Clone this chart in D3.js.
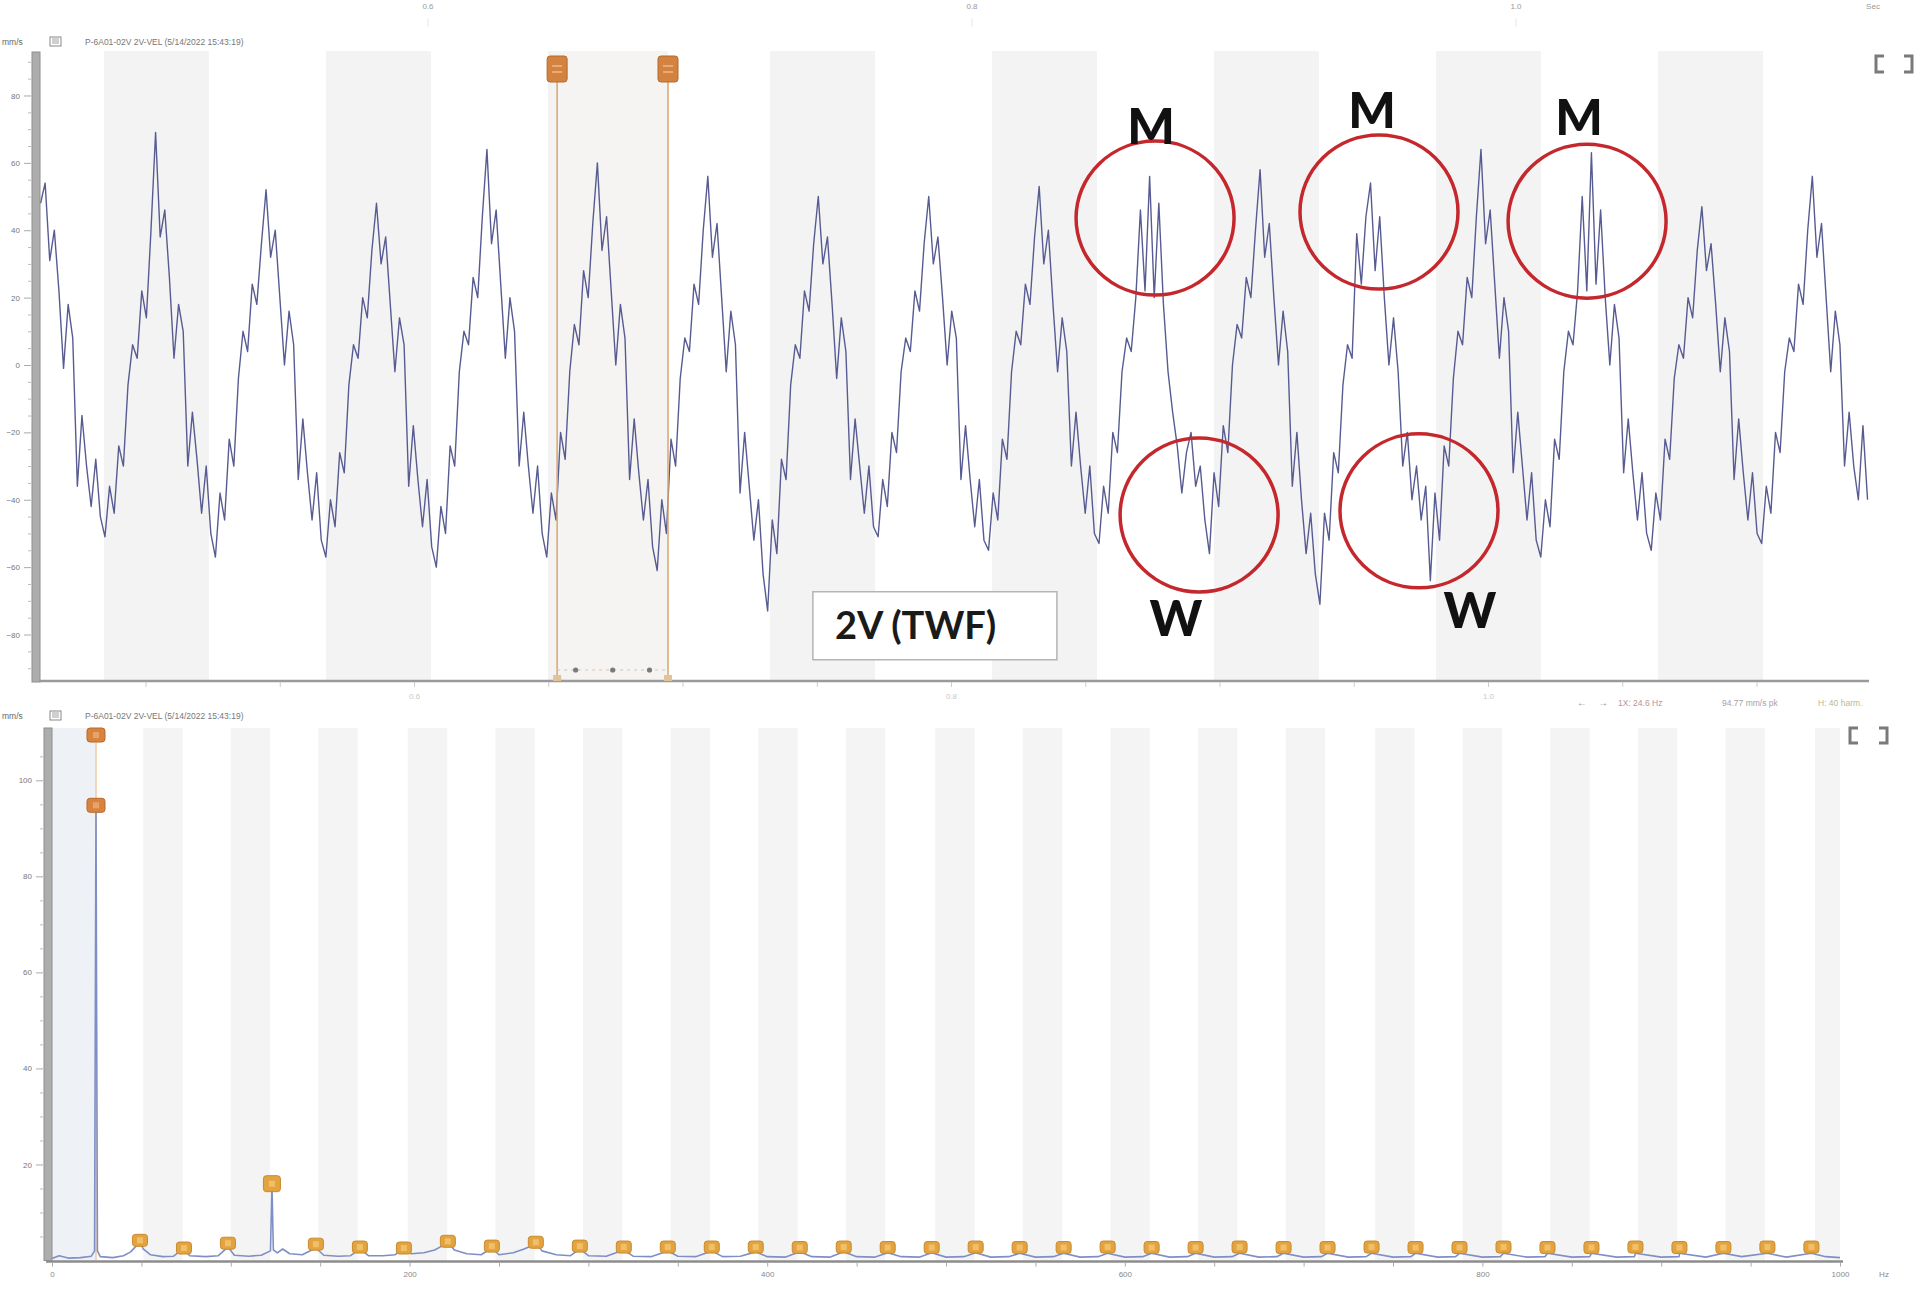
<!DOCTYPE html>
<html><head><meta charset="utf-8">
<script src="https://cdn.jsdelivr.net/npm/d3@7"></script>
<style>
html,body{margin:0;padding:0;background:#fff;}
svg{display:block;font-family:"Liberation Sans",Arial,sans-serif;}
</style></head><body>
<svg id="chart" width="1918" height="1310"></svg>
<script>
// ================= DATA =================
// cropped time labels of the strip above the top chart
const stripTicks = [0.6, 0.8, 1.0];
const stripUnit = "Sec";

// ---- Time waveform (TWF), mm/s, one value per sample ----
const twfStart = 0.4609;   // s
const twfStep  = 0.001714; // s
const twfValues = [
  48, 54, 31, 40, 22, -1, 18, 8, -36, -15, -30, -42, -28, -45,
  -51, -36, -44, -24, -30, -6, 6, 2, 22, 14, 40, 69, 38, 46, 26, 2, 18, 10, -30, -14, -28, -44, -30, -50,
  -57, -38, -46, -22, -30, -4, 10, 4, 24, 18, 36, 52, 32, 40, 20, 0, 16, 6, -34, -16, -32, -46, -32, -52,
  -57, -40, -48, -26, -32, -6, 6, 2, 20, 14, 34, 48, 30, 38, 18, -2, 14, 6, -36, -18, -34, -48, -34, -54,
  -60, -42, -50, -24, -30, -2, 10, 6, 26, 20, 44, 64, 36, 46, 24, 2, 20, 10, -30, -14, -30, -44, -30, -50,
  -57, -38, -46, -20, -28, -2, 12, 6, 28, 20, 42, 60, 34, 44, 22, 0, 18, 8, -34, -16, -32, -46, -34, -54,
  -61, -40, -50, -22, -30, -4, 8, 4, 24, 18, 40, 56, 32, 42, 20, -2, 16, 6, -38, -20, -36, -52, -40, -62,
  -73, -46, -56, -28, -34, -6, 6, 2, 22, 16, 36, 50, 30, 38, 18, -4, 14, 4, -34, -16, -30, -44, -30, -48,
  -51, -34, -42, -20, -26, -2, 8, 4, 22, 16, 36, 50, 30, 38, 20, 0, 16, 8, -34, -18, -34, -48, -34, -52,
  -55, -38, -46, -22, -28, -2, 10, 6, 24, 18, 38, 53, 30, 40, 18, -2, 14, 4, -30, -14, -30, -44, -30, -50,
  -53, -36, -44, -20, -26, -2, 8, 4, 20, 46, 22, 56, 20, 48, 18, -2, -14, -24, -38, -26, -20, -36, -30, -46,
  -56, -32, -42, -18, -26, 0, 12, 8, 26, 20, 40, 58, 32, 42, 20, 0, 16, 4, -36, -20, -40, -56, -44, -62,
  -71, -44, -52, -26, -32, -6, 6, 2, 39, 24, 44, 54, 28, 44, 20, 0, 14, -2, -30, -20, -40, -30, -46, -36,
  -64, -38, -52, -24, -30, -4, 10, 6, 26, 20, 44, 64, 36, 46, 24, 2, 20, 10, -32, -14, -30, -46, -32, -52,
  -57, -40, -48, -22, -28, -2, 10, 6, 22, 50, 22, 63, 24, 46, 20, 0, 18, 8, -32, -16, -32, -46, -32, -50,
  -55, -38, -46, -22, -28, -4, 6, 2, 20, 14, 34, 47, 28, 36, 18, -2, 14, 4, -34, -16, -32, -46, -32, -50,
  -53, -36, -44, -20, -26, -2, 8, 4, 24, 18, 40, 56, 32, 42, 20, -2, 16, 6, -30, -14, -30, -40, -18, -40
];
const twfYTicks = [80, 60, 40, 20, 0, -20, -40, -60, -80];
const twfXTicks = [0.5, 0.55, 0.6, 0.65, 0.7, 0.75, 0.8, 0.85, 0.9, 0.95, 1.0, 1.05, 1.1];
const twfXLabels = [0.6, 0.8, 1.0];
const twfBands = [[0.4845,0.5236],[0.5672,0.6063],[0.6499,0.6890],[0.7326,0.7717],
                  [0.8153,0.8544],[0.8979,0.9370],[0.9806,1.0197],[1.0633,1.1024]];
const twfCursors = [0.6533, 0.6946];
const twfCursorDots = [0.6602, 0.6740, 0.6877];
const twfHeader = "P-6A01-02V 2V-VEL (5/14/2022 15:43:19)";
// annotations: [time, value]
const mwCircles = [[0.8760,43.6],[0.9594,45.4],[1.0369,42.7],[0.8924,-44.5],[0.9743,-43.3]];
const mwLabels  = [["M",0.8745,65.6],["M",0.9568,70.3],["M",1.0339,68.2],["W",0.8838,-80.4],["W",0.9933,-78.0]];
const twfTitle = "2V (TWF)";
const twfTitlePos = [0.7940, -77.4];

// ---- Spectrum, mm/s vs Hz ----
const specFreq = [0,4,9,16,22,23.8,24.6,25.4,27,34,40,44,47,49.2,51,55,62,68,73.8,77,86,93,98.4,102,110,117,
  122.2,123,123.8,126,129,133,140,147.6,152,160,167,172.2,177,185,192,196.8,201,208,214,218,221.4,225,232,240,
  246,250,258,264,268,270.6,274,282,290,295.2,300,310,319.8,325,335,344.4,350,360,369,375,385,393.6,400,410,
  418.2,425,435,442.8,450,460,467.4,475,485,492,500,510,516.6,525,535,541.2,550,560,565.8,575,585,590.4,600,
  610,615,625,635,639.6,650,660,664.2,675,685,688.8,700,710,713.4,725,735,738,750,760,762.6,775,785,787.2,800,
  810,811.8,825,835,836.4,850,860,861,875,885,885.6,900,910,910.2,925,934.8,945,959.4,970,984,992,1000];
const specAmp = [0.4,1.0,0.5,0.6,0.9,2.0,94.8,2.0,0.8,0.6,1.0,1.8,3.0,4.0,2.4,1.2,0.8,0.9,2.6,1.0,0.8,1.0,2.8,1.1,0.9,1.1,
  2.0,16.0,2.2,1.6,2.4,1.4,1.2,2.6,1.1,0.9,1.0,2.4,1.0,1.0,1.2,2.6,1.4,1.6,2.2,3.0,4.0,2.2,1.4,1.2,
  2.6,1.2,1.6,2.4,3.0,3.8,2.0,1.2,1.0,2.4,1.0,0.9,2.2,0.9,0.8,2.0,0.9,0.8,2.0,0.8,0.9,1.8,0.8,0.7,
  1.8,0.8,0.7,1.8,0.8,0.7,1.6,0.8,0.7,1.6,0.7,0.8,1.6,0.7,0.8,1.5,0.7,0.8,1.5,0.7,0.8,1.5,0.7,
  0.8,1.5,0.7,0.8,1.5,0.7,0.8,1.5,0.7,0.8,1.5,0.7,0.8,1.5,0.7,0.8,1.5,0.7,0.8,1.5,0.7,0.8,1.5,0.7,
  0.8,1.5,0.7,0.8,1.5,0.7,0.8,1.5,0.7,0.8,1.5,0.7,0.8,1.5,0.7,1.5,0.8,1.5,0.7,1.5,0.8,0.6];
const harmFreq = [24.6,49.2,73.8,98.4,123.0,147.6,172.2,196.8,221.4,246.0,270.6,295.2,319.8,344.4,369.0,393.6,
  418.2,442.8,467.4,492.0,516.6,541.2,565.8,590.4,615.0,639.6,664.2,688.8,713.4,738.0,762.6,787.2,811.8,836.4,
  861.0,885.6,910.2,934.8,959.4,984.0];
const harmAmp = [94.8,4.2,2.6,3.6,16.0,3.4,2.8,2.6,4.0,3.0,3.8,3.0,2.8,2.8,2.8,2.8,2.7,2.8,2.7,2.7,
  2.8,2.7,2.7,2.8,2.7,2.7,2.8,2.7,2.7,2.8,2.7,2.7,2.8,2.7,2.7,2.8,2.7,2.7,2.8,2.8];
const specBands = [[51,73],[100,122],[149,171],[199,221],[248,270],[297,319],[346,368],[395,417],[444,466],
  [494,516],[543,565],[592,614],[641,663],[690,712],[740,762],[789,811],[838,860],[887,909],[936,958],[986,1000]];
const specLeadBand = [0, 24];
const specYTicks = [100, 80, 60, 40, 20];
const specXTicks = [0, 200, 400, 600, 800, 1000];
const specUnitX = "Hz";
const specHeader = "P-6A01-02V 2V-VEL (5/14/2022 15:43:19)";
const specLegend = ["\u2190", "\u2192", "1X: 24.6 Hz", "94.77 mm/s pk", "H: 40 harm."];

// ================= DRAW =================
const svg = d3.select("#chart");
const FONT = "'Liberation Sans', Arial, sans-serif";

// ---- strip of cropped labels at top ----
const xStrip = d3.scaleLinear().domain([0.6, 1.0]).range([428, 1516]);
svg.selectAll(".stripT").data(stripTicks).enter().append("text")
  .attr("x", d => xStrip(d)).attr("y", 9).attr("text-anchor", "middle")
  .attr("font-size", 8).attr("fill", "#999").text(d => d.toFixed(1));
svg.selectAll(".stripL").data(stripTicks).enter().append("line")
  .attr("x1", d => xStrip(d)).attr("x2", d => xStrip(d)).attr("y1", 19).attr("y2", 27)
  .attr("stroke", "#e4e4e4");
svg.append("text").attr("x", 1873).attr("y", 9).attr("text-anchor", "middle")
  .attr("font-size", 8).attr("fill", "#999").text(stripUnit);

// helper: header
function header(y, txt) {
  svg.append("text").attr("x", 2).attr("y", y).attr("font-size", 8.5).attr("fill", "#666").text("mm/s");
  svg.append("rect").attr("x", 50).attr("y", y - 8).attr("width", 11).attr("height", 9)
    .attr("fill", "none").attr("stroke", "#888").attr("stroke-width", 1);
  [y - 6, y - 4, y - 2].forEach(yy => svg.append("line").attr("x1", 52).attr("x2", 59)
    .attr("y1", yy).attr("y2", yy).attr("stroke", "#888").attr("stroke-width", 0.8));
  svg.append("text").attr("x", 85).attr("y", y).attr("font-size", 8.5).attr("fill", "#777").text(txt);
}
function brackets(x0, y0, w, h) {
  const p = `M${x0+8},${y0} L${x0},${y0} L${x0},${y0+h} L${x0+8},${y0+h}` +
            ` M${x0+w-8},${y0} L${x0+w},${y0} L${x0+w},${y0+h} L${x0+w-8},${y0+h}`;
  svg.append("path").attr("d", p).attr("fill", "none").attr("stroke", "#7a7a7a").attr("stroke-width", 3);
}

// ================= TOP : TWF =================
const xT = d3.scaleLinear().domain([0.4607, 1.1419]).range([40, 1869]);
const yT = d3.scaleLinear().domain([-93.8, 93.2]).range([681, 51]);
const tTop = yT.range()[1], tBot = yT.range()[0];

header(45, twfHeader);
brackets(1876, 56, 36, 16);

const gT = svg.append("g");
gT.selectAll(".band").data(twfBands).enter().append("rect")
  .attr("x", d => xT(d[0])).attr("width", d => xT(d[1]) - xT(d[0]))
  .attr("y", tTop).attr("height", tBot - tTop).attr("fill", "#f3f3f3");
// cursor region shading
gT.append("rect").attr("x", xT(twfCursors[0])).attr("width", xT(twfCursors[1]) - xT(twfCursors[0]))
  .attr("y", tTop).attr("height", tBot - tTop).attr("fill", "#f5f4f2");

// waveform
const lineT = d3.line().x((d, i) => xT(twfStart + i * twfStep)).y(d => yT(d));
gT.append("path").datum(twfValues).attr("d", lineT).attr("fill", "none")
  .attr("stroke", "#575b92").attr("stroke-width", 1.4).attr("stroke-linejoin", "round");

// y axis (bar + ticks)
gT.append("rect").attr("x", 32).attr("y", tTop + 1).attr("width", 8).attr("height", tBot - tTop)
  .attr("fill", "#adadad").attr("stroke", "#8e8e8e").attr("stroke-width", 1);
const yAxT = d3.axisLeft(yT).tickValues(twfYTicks).tickSize(7).tickPadding(4).tickFormat(d3.format("d"));
const gyT = gT.append("g").attr("transform", "translate(31,0)").call(yAxT);
gyT.select(".domain").remove();
gyT.selectAll("line").attr("stroke", "#aaa");
gyT.selectAll("text").attr("font-size", 8).attr("fill", "#777").attr("font-family", FONT);
const yAxTm = d3.axisLeft(yT).tickValues(d3.range(-90, 91, 5).filter(v => v % 20 !== 0)).tickSize(3).tickFormat("");
const gyTm = gT.append("g").attr("transform", "translate(31,0)").call(yAxTm);
gyTm.select(".domain").remove();
gyTm.selectAll("line").attr("stroke", "#bbb");

// x axis
gT.append("line").attr("x1", 40).attr("x2", 1869).attr("y1", tBot).attr("y2", tBot)
  .attr("stroke", "#9a9a9a").attr("stroke-width", 2.5);
const xAxT = d3.axisBottom(xT).tickValues(twfXTicks).tickSize(5).tickPadding(6)
  .tickFormat(d => twfXLabels.some(v => Math.abs(v - d) < 1e-6) ? d.toFixed(1) : "");
const gxT = gT.append("g").attr("transform", `translate(0,${tBot + 1})`).call(xAxT);
gxT.select(".domain").remove();
gxT.selectAll("line").attr("stroke", "#ccc");
gxT.selectAll("text").attr("font-size", 8).attr("fill", "#c8c8c8").attr("font-family", FONT);

// cursors
twfCursors.forEach(c => {
  gT.append("line").attr("x1", xT(c)).attr("x2", xT(c)).attr("y1", 70).attr("y2", tBot)
    .attr("stroke", "#d9a56e").attr("stroke-width", 1.5);
  gT.append("rect").attr("x", xT(c) - 4).attr("y", tBot - 6).attr("width", 8).attr("height", 6)
    .attr("fill", "#e0c39a");
  gT.append("rect").attr("x", xT(c) - 10).attr("y", 56).attr("width", 20).attr("height", 26).attr("rx", 3)
    .attr("fill", "#d4823f").attr("stroke", "#b56a2d").attr("stroke-width", 1);
  [66, 72].forEach(yy => gT.append("line").attr("x1", xT(c) - 5).attr("x2", xT(c) + 5)
    .attr("y1", yy).attr("y2", yy).attr("stroke", "#efb98a").attr("stroke-width", 1.5));
});
gT.append("line").attr("x1", xT(twfCursors[0])).attr("x2", xT(twfCursors[1]))
  .attr("y1", 670).attr("y2", 670).attr("stroke", "#d8c2b0").attr("stroke-dasharray", "3,4");
gT.selectAll(".cdot").data(twfCursorDots).enter().append("circle")
  .attr("cx", d => xT(d)).attr("cy", 670).attr("r", 2.6).attr("fill", "#7a7a7a");

// annotations
gT.selectAll(".mw").data(mwCircles).enter().append("ellipse")
  .attr("cx", d => xT(d[0])).attr("cy", d => yT(d[1])).attr("rx", 79).attr("ry", 77)
  .attr("fill", "none").attr("stroke", "#c4282c").attr("stroke-width", 3.5);
gT.selectAll(".mwl").data(mwLabels).enter().append("text")
  .attr("x", d => xT(d[1])).attr("y", d => yT(d[2])).attr("text-anchor", "middle")
  .attr("font-family", "Lato, 'Open Sans', sans-serif").attr("font-weight", 900)
  .attr("font-size", 50).attr("fill", "#111").text(d => d[0]);
const bx = xT(twfTitlePos[0]), by = yT(twfTitlePos[1]);
gT.append("rect").attr("x", bx - 122).attr("y", by - 34).attr("width", 244).attr("height", 68)
  .attr("fill", "#fff").attr("stroke", "#b4b4b4").attr("stroke-width", 1.5);
gT.append("text").attr("x", bx - 100).attr("y", by + 13).attr("text-anchor", "start")
  .attr("font-family", "Lato, 'Open Sans', sans-serif").attr("font-weight", 700)
  .attr("font-size", 38).attr("fill", "#1a1a1a").text(twfTitle);

// ================= BOTTOM : SPECTRUM =================
const xS = d3.scaleLinear().domain([0, 1000]).range([52, 1840]);
const yS = d3.scaleLinear().domain([0, 110.9]).range([1260.5, 728]);
const sTop = yS.range()[1], sBot = yS.range()[0];

header(719, specHeader);
brackets(1850, 728, 37, 15);
// legend row
const legX = [1577, 1598, 1618, 1722, 1818];
const legC = ["#888", "#888", "#b8949c", "#a8a0a8", "#bdb88e"];
specLegend.forEach((t, i) => svg.append("text").attr("x", legX[i]).attr("y", 706)
  .attr("font-size", i < 2 ? 10 : 8.5).attr("fill", legC[i]).text(t));

const gS = svg.append("g");
gS.append("rect").attr("x", xS(specLeadBand[0])).attr("width", xS(specLeadBand[1]) - xS(specLeadBand[0]))
  .attr("y", sTop).attr("height", sBot - sTop).attr("fill", "#eef1f6");
gS.selectAll(".band").data(specBands).enter().append("rect")
  .attr("x", d => xS(d[0])).attr("width", d => xS(d[1]) - xS(d[0]))
  .attr("y", sTop).attr("height", sBot - sTop).attr("fill", "#f4f4f4");

// 1x cursor line
gS.append("line").attr("x1", xS(harmFreq[0])).attr("x2", xS(harmFreq[0])).attr("y1", sTop + 6).attr("y2", sBot)
  .attr("stroke", "#f0c89e").attr("stroke-width", 1.5);

// spectrum line
const specPts = specFreq.map((f, i) => [f, specAmp[i]]);
const lineS = d3.line().x(d => xS(d[0])).y(d => yS(d[1]));
gS.append("path").datum(specPts).attr("d", lineS).attr("fill", "none")
  .attr("stroke", "#7f8fc6").attr("stroke-width", 1.6).attr("stroke-linejoin", "round");

// axes
gS.append("rect").attr("x", 44).attr("y", sTop).attr("width", 8).attr("height", sBot - sTop)
  .attr("fill", "#adadad").attr("stroke", "#8e8e8e").attr("stroke-width", 1);
const yAxS = d3.axisLeft(yS).tickValues(specYTicks).tickSize(7).tickPadding(4).tickFormat(d3.format("d"));
const gyS = gS.append("g").attr("transform", "translate(43,0)").call(yAxS);
gyS.select(".domain").remove();
gyS.selectAll("line").attr("stroke", "#aaa");
gyS.selectAll("text").attr("font-size", 8).attr("fill", "#777").attr("font-family", FONT);
const yAxSm = d3.axisLeft(yS).tickValues(d3.range(5, 110, 5).filter(v => v % 20 !== 0)).tickSize(3).tickFormat("");
const gySm = gS.append("g").attr("transform", "translate(43,0)").call(yAxSm);
gySm.select(".domain").remove();
gySm.selectAll("line").attr("stroke", "#bbb");

gS.append("line").attr("x1", 46).attr("x2", 1843).attr("y1", sBot + 1).attr("y2", sBot + 1)
  .attr("stroke", "#8c8c8c").attr("stroke-width", 2.5);
const xAxS = d3.axisBottom(xS).tickValues(d3.range(0, 1001, 50)).tickSize(4).tickPadding(5)
  .tickFormat(d => specXTicks.includes(d) ? d : "");
const gxS = gS.append("g").attr("transform", `translate(0,${sBot + 2})`).call(xAxS);
gxS.select(".domain").remove();
gxS.selectAll("line").attr("stroke", "#aaa");
gxS.selectAll("text").attr("font-size", 8).attr("fill", "#888").attr("font-family", FONT);
svg.append("text").attr("x", 1884).attr("y", sBot + 16).attr("text-anchor", "middle")
  .attr("font-size", 8).attr("fill", "#888").text(specUnitX);

// harmonic markers
const mk = gS.selectAll(".mk").data(harmFreq.map((f, i) => ({f, a: harmAmp[i], i}))).enter().append("g")
  .attr("transform", d => `translate(${xS(d.f)},${yS(d.a)})`);
mk.append("rect")
  .attr("x", d => d.i === 0 ? -9 : (d.i === 4 ? -8.5 : -7.5))
  .attr("y", d => d.i === 0 ? -7 : (d.i === 4 ? -8 : -6))
  .attr("width", d => d.i === 0 ? 18 : (d.i === 4 ? 17 : 15))
  .attr("height", d => d.i === 0 ? 14 : (d.i === 4 ? 16 : 12))
  .attr("rx", 3)
  .attr("fill", d => d.i === 0 ? "#d8843f" : "#e3a440")
  .attr("stroke", d => d.i === 0 ? "#b8692c" : "#c88a2c").attr("stroke-width", 1);
mk.append("rect").attr("x", -3).attr("y", -3).attr("width", 6).attr("height", 6)
  .attr("fill", d => d.i === 0 ? "#e9a26a" : "#efbf6a");
// pinned top marker of 1x cursor
const top1 = gS.append("g").attr("transform", `translate(${xS(harmFreq[0])},${sTop + 7})`);
top1.append("rect").attr("x", -9).attr("y", -7).attr("width", 18).attr("height", 14).attr("rx", 3)
  .attr("fill", "#d8843f").attr("stroke", "#b8692c");
top1.append("rect").attr("x", -3).attr("y", -3).attr("width", 6).attr("height", 6).attr("fill", "#e9a26a");
</script>
</body></html>
